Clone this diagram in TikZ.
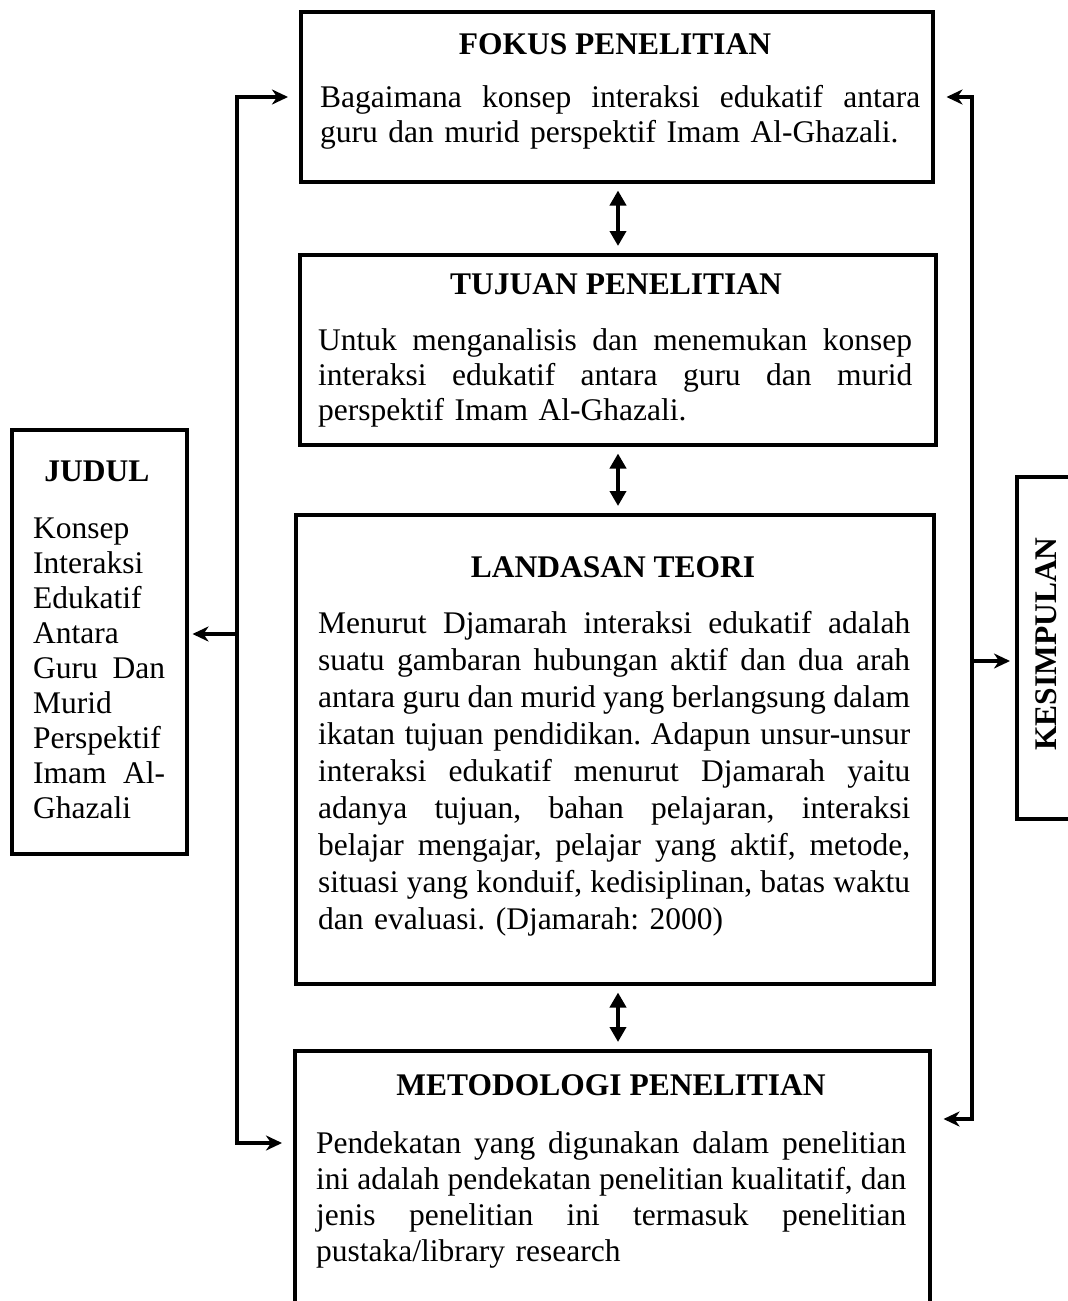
\documentclass[tikz,border=0pt]{standalone}
\usepackage{fontspec}
\setmainfont{Liberation Serif}
\usetikzlibrary{arrows.meta}
% justified line: words spread over the given width
\def\jlsplit#1 #2\jlend{#1\ifx\relax#2\relax\else\hskip 0pt plus 1fil\relax\jlsplit#2\jlend\fi}
\newcommand\jl[2]{\leavevmode\hbox to #1{\jlsplit#2 \jlend}}
\begin{document}
\begin{tikzpicture}[x=1pt,y=-1pt,
  box/.style={draw, line width=3.5pt, inner sep=0pt, anchor=north west},
  ttl/.style={font=\fontsize{31.5}{35}\selectfont\bfseries, inner sep=0pt, anchor=base},
  body/.style={font={\fontsize{31.5}{35}\selectfont\frenchspacing}, inner sep=0pt, anchor=north west, align=left},
  bus/.style={line width=3.5pt, line join=miter},
  hd/.tip={Stealth[length=16pt,width=15pt,inset=5pt]},
  tri/.tip={Triangle[length=15pt,width=16pt]},
  dbl/.style={line width=4.5pt, tri-tri, shorten <=7pt, shorten >=7pt}]
\useasboundingbox (0,0) rectangle (1068,1301);
\clip (0,0) rectangle (1068,1301);

% boxes
\node[box, minimum width=632pt, minimum height=170pt] (fokus) at (299,10) {};
\node[box, minimum width=636pt, minimum height=190pt] (tujuan) at (298,253) {};
\node[box, minimum width=638pt, minimum height=469pt] (landasan) at (294,513) {};
\node[box, minimum width=635pt, minimum height=300pt] (meto) at (293,1049) {};
\node[box, minimum width=175pt, minimum height=424pt] (judul) at (10,428) {};
\node[box, minimum width=100pt, minimum height=342pt] (kes) at (1015,475) {};

% titles
\node[ttl] (fokusT) at (615,54) {FOKUS PENELITIAN};
\node[ttl] (tujuanT) at (616,294) {TUJUAN PENELITIAN};
\node[ttl] (landasanT) at (613,577) {LANDASAN TEORI};
\node[ttl] (metoT) at (611,1095) {METODOLOGI PENELITIAN};
\node[ttl] (judulT) at (97,481) {JUDUL};
\node[ttl, anchor=center, rotate=90] (kesT) at (1046,644) {KESIMPULAN};

% bodies
\node[body, text width=600pt] (fokusB) at (320,82) {\rule{0pt}{25pt}%
\jl{600pt}{Bagaimana konsep interaksi edukatif antara}\\
guru dan murid perspektif Imam Al-Ghazali.};
\node[body, text width=594pt] (tujuanB) at (318,325) {\rule{0pt}{25pt}%
\jl{594pt}{Untuk menganalisis dan menemukan konsep}\\
\jl{594pt}{interaksi edukatif antara guru dan murid}\\
perspektif Imam Al-Ghazali.};
\node[body, text width=592pt, font={\fontsize{31.5}{37}\selectfont\frenchspacing}] (landasanB) at (318,608) {\rule{0pt}{25pt}%
\jl{592pt}{Menurut Djamarah interaksi edukatif adalah}\\
\jl{592pt}{suatu gambaran hubungan aktif dan dua arah}\\
\jl{592pt}{antara guru dan murid yang berlangsung dalam}\\
\jl{592pt}{ikatan tujuan pendidikan. Adapun unsur-unsur}\\
\jl{592pt}{interaksi edukatif menurut Djamarah yaitu}\\
\jl{592pt}{adanya tujuan, bahan pelajaran, interaksi}\\
\jl{592pt}{belajar mengajar, pelajar yang aktif, metode,}\\
\jl{592pt}{situasi yang konduif, kedisiplinan, batas waktu}\\
dan evaluasi. (Djamarah: 2000)};
\node[body, text width=590pt, font={\fontsize{31.5}{36}\selectfont\frenchspacing}] (metoB) at (316,1128) {\rule{0pt}{25pt}%
\jl{590pt}{Pendekatan yang digunakan dalam penelitian}\\
\jl{590pt}{ini adalah pendekatan penelitian kualitatif, dan}\\
\jl{590pt}{jenis penelitian ini termasuk penelitian}\\
pustaka/library research};
\node[body, text width=132pt] (judulB) at (33,513) {\rule{0pt}{25pt}%
Konsep\\
Interaksi\\
Edukatif\\
Antara\\
\jl{132pt}{Guru Dan}\\
Murid\\
Perspektif\\
\jl{132pt}{Imam Al-}\\
Ghazali};

% double arrows between the main boxes
\coordinate (xc) at (618,0);
\draw[dbl] (fokus.south -| xc) -- (tujuan.north -| xc);
\draw[dbl] (tujuan.south -| xc) -- (landasan.north -| xc);
\draw[dbl] (landasan.south -| xc) -- (meto.north -| xc);

% left bus
\coordinate (L1) at (237,97);
\coordinate (L2) at (237,1143);
\coordinate (LJ) at (237,634);
\draw[bus, hd-hd, shorten <=11pt, shorten >=11pt] (L2 -| meto.west) -- (L2) -- (L1) -- (L1 -| fokus.west);
\draw[bus, -hd, shorten >=4pt] (LJ) -- (LJ -| judul.east);

% right bus
\coordinate (R1) at (972,97);
\coordinate (R2) at (972,1119);
\coordinate (RK) at (972,661);
\draw[bus, hd-hd, shorten <=12pt, shorten >=12pt] (R1 -| fokus.east) -- (R1) -- (R2) -- (R2 -| meto.east);
\draw[bus, -hd, shorten >=5pt] (RK) -- (RK -| kes.west);
\end{tikzpicture}
\end{document}
